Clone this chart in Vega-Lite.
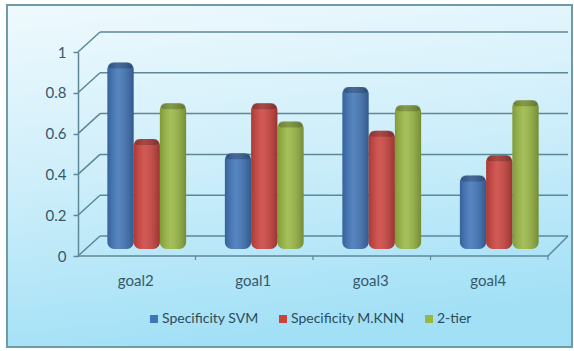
{
  "$schema": "https://vega.github.io/schema/vega-lite/v6.json",
  "autosize": "none",
  "padding": {"left": 7, "top": 5, "right": 2, "bottom": 4},
  "width": 565,
  "height": 342,
  "background": "#ffffff",
  "view": {
    "stroke": "#6f9ba5",
    "strokeWidth": 2,
    "fill": {
      "gradient": "linear", "x1": 0.1, "y1": 0, "x2": 0.3, "y2": 1,
      "stops": [
        {"offset": 0, "color": "#eef9fd"},
        {"offset": 0.5, "color": "#cdeefa"},
        {"offset": 1, "color": "#a2e0f6"}
      ]
    }
  },
  "config": {"font": "Lato"},
  "data": {"values": [
    {"goal": "goal2", "series": "Specificity SVM", "value": 0.9},
    {"goal": "goal2", "series": "Specificity M.KNN", "value": 0.525},
    {"goal": "goal2", "series": "2-tier", "value": 0.7},
    {"goal": "goal1", "series": "Specificity SVM", "value": 0.455},
    {"goal": "goal1", "series": "Specificity M.KNN", "value": 0.7},
    {"goal": "goal1", "series": "2-tier", "value": 0.61},
    {"goal": "goal3", "series": "Specificity SVM", "value": 0.78},
    {"goal": "goal3", "series": "Specificity M.KNN", "value": 0.565},
    {"goal": "goal3", "series": "2-tier", "value": 0.69},
    {"goal": "goal4", "series": "Specificity SVM", "value": 0.345},
    {"goal": "goal4", "series": "Specificity M.KNN", "value": 0.445},
    {"goal": "goal4", "series": "2-tier", "value": 0.715}
  ]},
  "encoding": {
    "y": {
      "field": "value", "type": "quantitative", "title": null,
      "scale": {"domain": [0, 1], "range": [251, 47]},
      "axis": {"orient": "left", "offset": -71, "values": [0, 0.2, 0.4, 0.6, 0.8, 1], "format": "~g", "grid": false, "domainColor": "#5d8896", "domainWidth": 1.5, "tickColor": "#5d8896", "tickSize": 5, "tickWidth": 1.5, "labelPadding": 7, "labelFontSize": 15, "labelColor": "#38586a"}
    }
  },
  "layer": [
    {
      "data": {"values": [{"value": 0}, {"value": 0.2}, {"value": 0.4}, {"value": 0.6}, {"value": 0.8}, {"value": 1}]},
      "layer": [
        {
          "mark": {"type": "rule", "color": "#5d8896", "strokeWidth": 1.5, "xOffset": 12, "x2Offset": 10, "yOffset": -20},
          "encoding": {
            "x": {"datum": 0, "type": "quantitative", "axis": null, "scale": {"domain": [0, 1], "range": [81, 551]}},
            "x2": {"datum": 1}
          }
        },
        {
          "mark": {"type": "rule", "color": "#5d8896", "strokeWidth": 1.5, "xOffset": -10, "x2Offset": 12, "y2Offset": -20},
          "encoding": {
            "x": {"datum": 0, "type": "quantitative", "axis": null, "scale": {"domain": [0, 1], "range": [81, 551]}},
            "x2": {"datum": 0},
            "y2": {"field": "value"}
          }
        }
      ]
    },
    {
      "data": {"values": [{"value": 0}]},
      "layer": [
        {
          "mark": {"type": "rule", "color": "#5d8896", "strokeWidth": 1.5, "xOffset": -10, "x2Offset": -10},
          "encoding": {
            "x": {"datum": 0, "type": "quantitative", "axis": null, "scale": {"domain": [0, 1], "range": [81, 551]}},
            "x2": {"datum": 1}
          }
        },
        {
          "mark": {"type": "rule", "color": "#5d8896", "strokeWidth": 1.5, "xOffset": -10, "x2Offset": 10, "y2Offset": -20},
          "encoding": {
            "x": {"datum": 1, "type": "quantitative", "axis": null, "scale": {"domain": [0, 1], "range": [81, 551]}},
            "x2": {"datum": 1},
            "y2": {"field": "value"}
          }
        }
      ]
    },
    {
      "data": {"values": [
        {"value": 0, "boundary": 0.25},
        {"value": 0, "boundary": 0.5},
        {"value": 0, "boundary": 0.75},
        {"value": 0, "boundary": 1}
      ]},
      "mark": {"type": "rule", "color": "#5d8896", "strokeWidth": 1.2, "xOffset": -10, "x2Offset": -10, "y2Offset": 4},
      "encoding": {
        "x": {"field": "boundary", "type": "quantitative", "axis": null, "scale": {"domain": [0, 1], "range": [81, 551]}},
        "x2": {"field": "boundary"},
        "y2": {"field": "value"}
      }
    },
    {
      "encoding": {
        "x": {
          "field": "goal", "type": "nominal", "title": null, "sort": ["goal2", "goal1", "goal3", "goal4"],
          "scale": {"domain": ["goal2", "goal1", "goal3", "goal4"], "range": [81, 551], "paddingInner": 0.33, "paddingOuter": 0.165},
          "axis": {"orient": "bottom", "offset": -91, "labelAngle": 0, "labelOffset": -11, "labelPadding": 17, "labelFontSize": 15, "labelColor": "#38586a", "domain": false, "ticks": false, "grid": false}
        },
        "xOffset": {"field": "series", "type": "nominal", "sort": ["Specificity SVM", "Specificity M.KNN", "2-tier"], "scale": {"domain": ["Specificity SVM", "Specificity M.KNN", "2-tier"], "paddingInner": 0, "paddingOuter": 0}}
      },
      "layer": [
        {
          "mark": {"type": "bar", "cornerRadius": 7, "yOffset": -10, "y2Offset": -7},
          "encoding": {
            "y2": {"datum": 0},
            "fill": {
              "field": "series", "type": "nominal", "sort": ["Specificity SVM", "Specificity M.KNN", "2-tier"],
              "scale": {"domain": ["Specificity SVM", "Specificity M.KNN", "2-tier"], "range": ["#3f74b8", "#cc433e", "#99b843"]},
              "legend": {"title": null, "orient": "none", "legendX": 140, "legendY": 307, "direction": "horizontal", "columns": 3, "symbolType": "square", "symbolSize": 64, "symbolStrokeWidth": 0, "labelFontSize": 14, "labelColor": "#2c4c5a", "columnPadding": 17, "labelOffset": 1}
            }
          }
        },
        {
          "mark": {
            "type": "bar", "cornerRadius": 7, "yOffset": -10, "y2Offset": -7,
            "fill": {
              "gradient": "linear", "x1": 0, "y1": 0, "x2": 1, "y2": 0,
              "stops": [
                {"offset": 0, "color": "rgba(0,0,0,0.16)"},
                {"offset": 0.4, "color": "rgba(255,255,255,0.12)"},
                {"offset": 1, "color": "rgba(0,0,0,0.24)"}
              ]
            }
          },
          "encoding": {"y2": {"datum": 0}}
        },
        {
          "mark": {"type": "tick", "color": "#000000", "opacity": 0.2, "thickness": 6, "cornerRadius": 3, "size": 24, "yOffset": -7},
          "encoding": {}
        }
      ]
    }
  ],
  "resolve": {"scale": {"x": "independent"}}
}
